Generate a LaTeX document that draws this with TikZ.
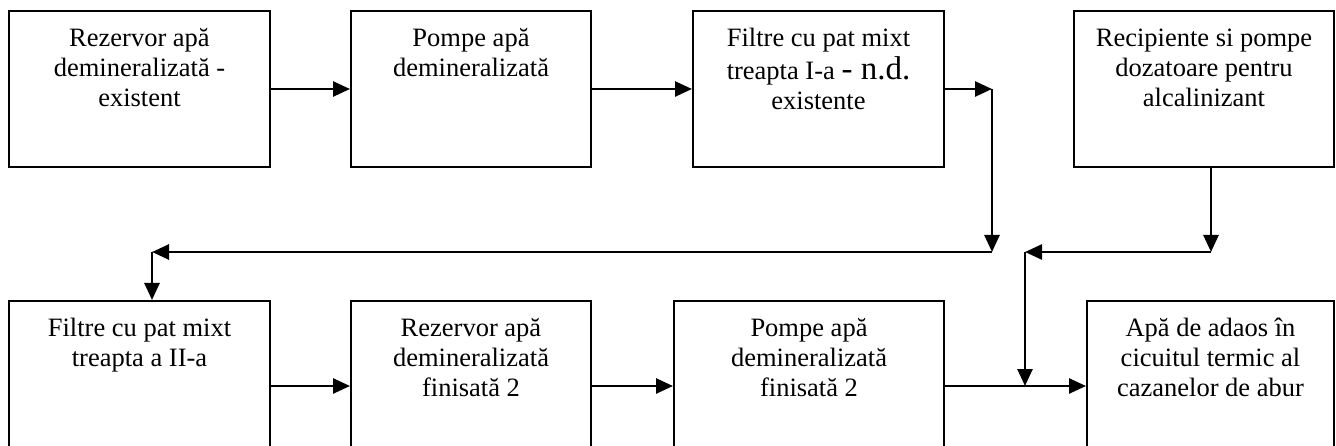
\documentclass[tikz,border=0pt]{standalone}
\usepackage{fontspec}
\setmainfont{Liberation Serif}
\usetikzlibrary{arrows.meta}
\tikzset{
  box/.style={draw, line width=2pt, inner sep=0pt},
  txt/.style={align=center, anchor=north, inner sep=0pt, font=\fontsize{26.5}{30}\selectfont},
  arr/.style={-{Triangle[length=17pt,width=15pt]}, line width=2.6pt}
}
\begin{document}
\begin{tikzpicture}[x=1pt,y=-1pt]
\fill[white] (0,0) rectangle (1336,446);
\useasboundingbox (0,0) rectangle (1336,446);
% top row
\node[box, minimum width=261pt, minimum height=156pt] (b1) at (139.5,89) {};
\node[box, minimum width=240pt, minimum height=156pt] (b2) at (471,89) {};
\node[box, minimum width=251pt, minimum height=156pt] (b3) at (818.5,89) {};
\node[box, minimum width=260pt, minimum height=156pt] (b4) at (1204,89) {};
% bottom row
\node[box, minimum width=261pt, minimum height=170pt] (b5) at (139.5,386) {};
\node[box, minimum width=240pt, minimum height=170pt] (b6) at (471,386) {};
\node[box, minimum width=270pt, minimum height=170pt] (b7) at (809,386) {};
\node[box, minimum width=247pt, minimum height=170pt] (b8) at (1210.5,386) {};
% texts
\node[txt] (t1) at ([yshift=-15pt]b1.north) {\strut Rezervor apă\\demineralizată -\\existent};
\node[txt] (t2) at ([yshift=-15pt]b2.north) {\strut Pompe apă\\demineralizată};
\node[txt] (t3) at ([yshift=-15pt]b3.north) {\strut Filtre cu pat mixt\\treapta I-a {\fontsize{33}{30}\selectfont - n.d.}\\existente};
\node[txt] (t4) at ([yshift=-15pt]b4.north) {\strut Recipiente si pompe\\dozatoare pentru\\alcalinizant};
\node[txt] (t5) at ([yshift=-15pt]b5.north) {\strut Filtre cu pat mixt\\treapta a II-a};
\node[txt] (t6) at ([yshift=-15pt]b6.north) {\strut Rezervor apă\\demineralizată\\finisată 2};
\node[txt] (t7) at ([yshift=-15pt]b7.north) {\strut Pompe apă\\demineralizată\\finisată 2};
\node[txt] (t8) at ([yshift=-15pt]b8.north) {\strut Apă de adaos în\\cicuitul termic al\\cazanelor de abur};
% coordinates
\coordinate (c1) at (992,89);
\coordinate (c2) at (992,252);
\coordinate (c3) at (152,252);
\coordinate (c4top) at (1211,167);
\coordinate (c4) at (1211,252);
\coordinate (c5) at (1025,252);
\coordinate (c6) at (1025,386);
% connectors
\draw[arr] (b1.east) -- (b2.west);
\draw[arr] (b2.east) -- (b3.west);
\draw[arr] (b3.east) -- (c1);
\draw[arr] (c1) -- (c2);
\draw[arr] (c2) -- (c3);
\draw[arr] (c3) -- (c3 |- b5.north);
\draw[arr] (c4top) -- (c4);
\draw[arr] (c4) -- (c5);
\draw[arr] (c5) -- (c6);
\draw[arr] (b5.east) -- (b6.west);
\draw[arr] (b6.east) -- (b7.west);
\draw[arr] (b7.east) -- (b8.west);
\end{tikzpicture}
\end{document}
